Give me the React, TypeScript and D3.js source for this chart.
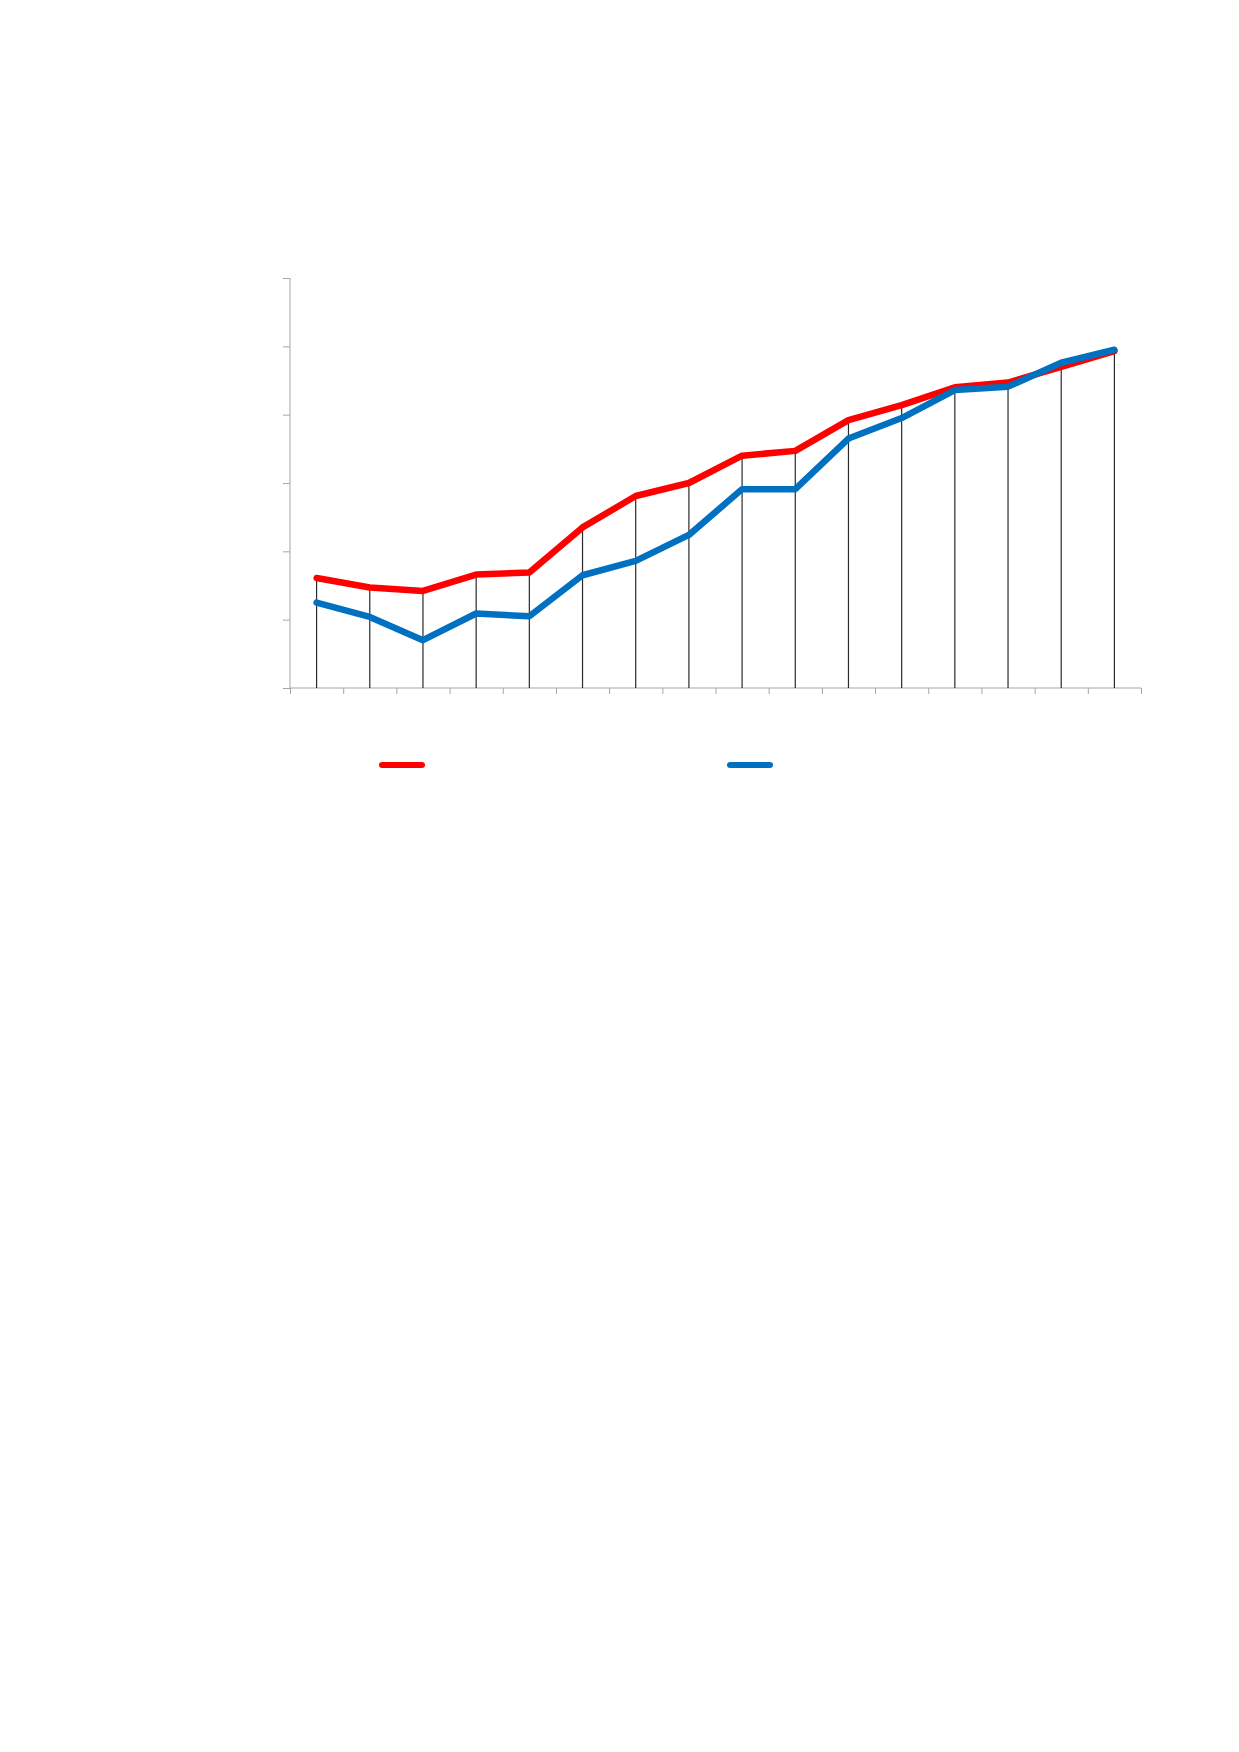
import { useRef, useEffect } from 'react';
import * as d3 from 'd3';

const categories = ['1', '2', '3', '4', '5', '6', '7', '8', '9', '10', '11', '12', '13', '14', '15', '16'];
const redValues = [1.61, 1.47, 1.42, 1.66, 1.69, 2.35, 2.81, 3.0, 3.4, 3.47, 3.92, 4.14, 4.4, 4.47, 4.7, 4.93];
const blueValues = [1.25, 1.04, 0.7, 1.09, 1.05, 1.65, 1.86, 2.24, 2.91, 2.91, 3.65, 3.95, 4.36, 4.41, 4.76, 4.95];
const yTicks = [0, 1, 2, 3, 4, 5, 6];

const series = [
  { name: 'Series 1', values: redValues, color: '#ff0000' },
  { name: 'Series 2', values: blueValues, color: '#0070c0' },
];

export default function App() {
  const svgRef = useRef<SVGSVGElement>(null);

  useEffect(() => {
    if (!svgRef.current) return;
    const svg = d3.select(svgRef.current);
    svg.selectAll('*').remove();

    const left = 290;
    const right = 1141;
    const top = 278;
    const bottom = 688;

    const xScale = d3.scaleBand<string>().domain(categories).range([left, right]).padding(0);
    const xCenter = (c: string) => (xScale(c) ?? 0) + xScale.bandwidth() / 2;
    const tickScale = d3.scaleLinear().domain([0, categories.length]).range([left, right]);
    const yScale = d3.scaleLinear().domain([0, 6]).range([bottom, top]);

    const axisColor = '#a6a6a6';

    // Y axis
    const yAxis = svg.append('g')
      .attr('transform', `translate(${left},0)`)
      .call(d3.axisLeft(yScale).tickValues(yTicks).tickSize(7).tickFormat(() => ''));
    yAxis.selectAll('line').attr('stroke', axisColor);
    yAxis.select('.domain').attr('stroke', axisColor).attr('d', `M0,${top}V${bottom}`);

    // X axis, ticks between categories
    const xAxis = svg.append('g')
      .attr('transform', `translate(0,${bottom})`)
      .call(
        d3.axisBottom(tickScale)
          .tickValues(d3.range(categories.length + 1))
          .tickSize(6)
          .tickFormat(() => '')
      );
    xAxis.selectAll('line').attr('stroke', axisColor);
    xAxis.select('.domain').attr('stroke', axisColor).attr('d', `M${left},0H${right}`);

    // Drop lines
    svg.append('g')
      .selectAll('line')
      .data(categories)
      .enter()
      .append('line')
      .attr('x1', (c) => xCenter(c))
      .attr('x2', (c) => xCenter(c))
      .attr('y1', (_, i) => yScale(Math.max(redValues[i], blueValues[i])))
      .attr('y2', bottom)
      .attr('stroke', '#2b2b2b')
      .attr('stroke-width', 1.2);

    // Lines
    series.forEach((s) => {
      const line = d3.line<number>()
        .x((_, i) => xCenter(categories[i]))
        .y((d) => yScale(d));
      svg.append('path')
        .datum(s.values)
        .attr('d', line)
        .attr('fill', 'none')
        .attr('stroke', s.color)
        .attr('stroke-width', 6.5)
        .attr('stroke-linejoin', 'round')
        .attr('stroke-linecap', 'round');
    });

    // Legend
    const legendX = [382, 730];
    series.forEach((s, i) => {
      svg.append('line')
        .attr('x1', legendX[i]).attr('x2', legendX[i] + 40)
        .attr('y1', 765).attr('y2', 765)
        .attr('stroke', s.color)
        .attr('stroke-width', 6)
        .attr('stroke-linecap', 'round');
    });
  }, []);

  return (
    <svg
      ref={svgRef}
      width={1239}
      height={1752}
      style={{ position: 'absolute', left: 0, top: 0, background: '#fff', display: 'block' }}
    />
  );
}
